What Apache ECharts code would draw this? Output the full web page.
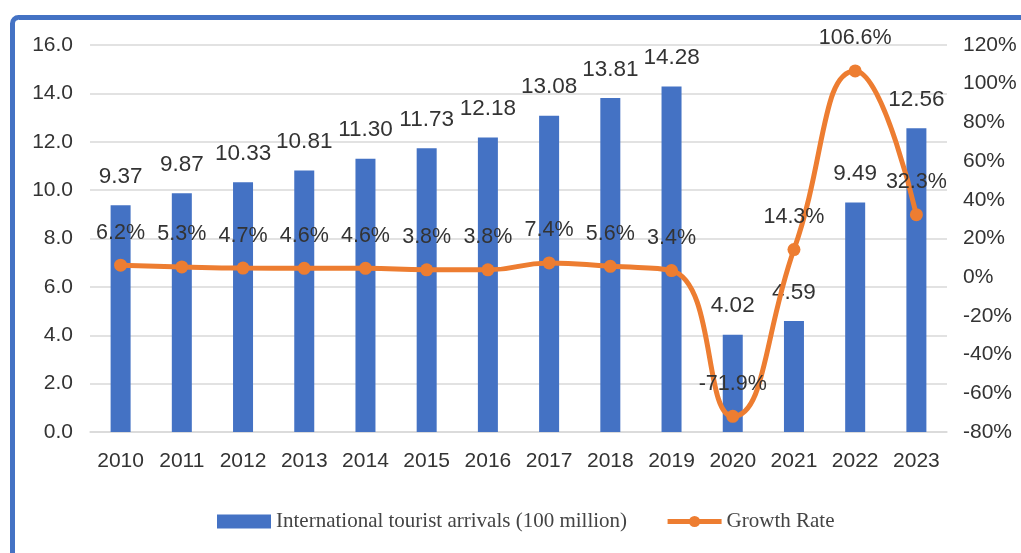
<!DOCTYPE html>
<html><head><meta charset="utf-8">
<script src="https://cdn.jsdelivr.net/npm/echarts@6/dist/echarts.min.js"></script>
<style>html,body{margin:0;padding:0;background:#fff;}#c{width:1021px;height:553px;}</style>
</head><body><div id="c"></div>
<script>
const years = ['2010','2011','2012','2013','2014','2015','2016','2017','2018','2019','2020','2021','2022','2023'];
const arrivals = [9.37, 9.87, 10.33, 10.81, 11.30, 11.73, 12.18, 13.08, 13.81, 14.28, 4.02, 4.59, 9.49, 12.56];
const growth = [6.2, 5.3, 4.7, 4.6, 4.6, 3.8, 3.8, 7.4, 5.6, 3.4, -71.9, 14.3, 106.6, 32.3];
const barName = 'International tourist arrivals (100 million)';
const lineName = 'Growth Rate';

const chart = echarts.init(document.getElementById('c'));
const txt = '#333';
const fnt = 'Liberation Sans, Arial, sans-serif';
chart.setOption({
  animation: false,
  graphic: [{
    type: 'rect', left: 10, top: 15, shape: {width: 1060, height: 600, r: 6},
    style: {fill: 'none', stroke: '#4472C4', lineWidth: 5}, z: 100
  }],
  grid: {left: 90, right: 74, top: 45, bottom: 121},
  legend: {
    bottom: 16, left: 212, itemGap: 38, itemWidth: 54, itemHeight: 14,
    textStyle: {fontFamily: 'Liberation Serif, Times New Roman, serif', fontSize: 21, color: '#444'},
    data: [{name: barName, icon: 'rect'}, {name: lineName, lineStyle: {width: 5}}]
  },
  xAxis: {
    type: 'category', data: years,
    axisTick: {show: false},
    axisLine: {lineStyle: {color: '#d9d9d9', width: 1.5}},
    axisLabel: {fontSize: 21, color: txt, fontFamily: fnt, margin: 19}
  },
  yAxis: [{
    type: 'value', min: 0, max: 16, interval: 2,
    axisLabel: {fontSize: 21, color: txt, fontFamily: fnt, margin: 17, formatter: v => v.toFixed(1)},
    splitLine: {lineStyle: {color: '#d9d9d9', width: 1.5}},
    axisLine: {show: false}, axisTick: {show: false}
  }, {
    type: 'value', min: -80, max: 120, interval: 20,
    axisLabel: {fontSize: 21, color: txt, fontFamily: fnt, margin: 16, formatter: v => v + '%'},
    splitLine: {show: false}, axisLine: {show: false}, axisTick: {show: false}
  }],
  series: [{
    name: barName, type: 'bar', data: arrivals, barWidth: 20,
    itemStyle: {color: '#4472C4'},
    label: {show: true, position: 'top', distance: 17, fontSize: 22.5, color: txt, fontFamily: fnt,
      formatter: p => p.value.toFixed(2)}
  }, {
    name: lineName, type: 'line', yAxisIndex: 1, data: growth, smooth: 0.5,
    symbol: 'circle', symbolSize: 13,
    lineStyle: {color: '#ED7D31', width: 5},
    itemStyle: {color: '#ED7D31'},
    label: {show: true, position: 'top', distance: 15, fontSize: 21.5, color: txt, fontFamily: fnt,
      formatter: p => p.value.toFixed(1) + '%'},
    z: 5
  }]
});
</script></body></html>
